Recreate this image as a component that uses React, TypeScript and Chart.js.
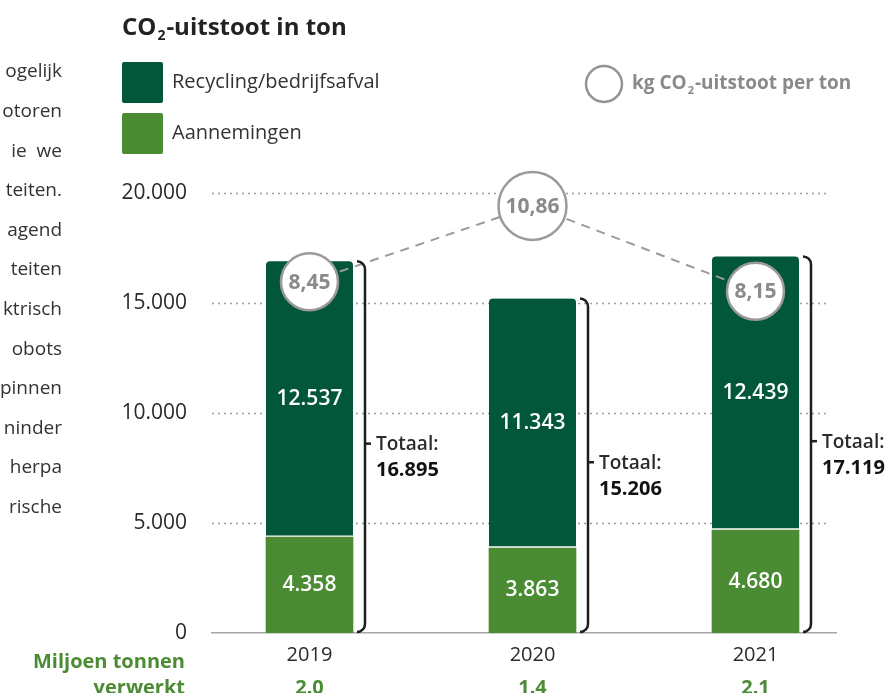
import React, { useEffect, useRef } from 'react';
import { Chart, registerables } from 'chart.js';

Chart.register(...registerables);

// ---- data ----
const years = ['2019', '2020', '2021'];
const recycling = [12537, 11343, 12439];
const aannemingen = [4358, 3863, 4680];
const totals = [16895, 15206, 17119];
const kgPerTon = [8.45, 10.86, 8.15];
const kgLabels = ['8,45', '10,86', '8,15'];
const verwerkt = ['2.0', '1.4', '2.1'];
const yTickValues = [0, 5000, 10000, 15000, 20000];
const sideText = ['ogelijk', 'otoren', 'ie  we', 'teiten.', 'agend', 'teiten', 'ktrisch', 'obots', 'pinnen', 'ninder', 'herpa', 'rische'];

const DARK = '#02573a';
const LIGHT = '#4b8b34';
const GREY = '#939393';
const TEXT = '#2b2b2b';
const FONT = '"Open Sans", sans-serif';
const BAR_W = 87;

const fmt = (n: number) => String(n).replace(/\B(?=(\d{3})+(?!\d))/g, '.');

function drawSubText(ctx: CanvasRenderingContext2D, x: number, y: number, parts: [string, string, string], size: number, weight: string, color: string) {
  ctx.fillStyle = color;
  ctx.textAlign = 'left';
  ctx.textBaseline = 'middle';
  ctx.font = `${weight} ${size}px ${FONT}`;
  ctx.fillText(parts[0], x, y);
  let cx = x + ctx.measureText(parts[0]).width + 1;
  ctx.font = `${weight} ${Math.round(size * 0.6)}px ${FONT}`;
  ctx.fillText(parts[1], cx, y + size * 0.35);
  cx += ctx.measureText(parts[1]).width + 1;
  ctx.font = `${weight} ${size}px ${FONT}`;
  ctx.fillText(parts[2], cx, y);
}

const decor = {
  id: 'decor',
  beforeDatasetsDraw(chart: any) {
    const { ctx, chartArea, scales } = chart;
    const y = scales.y;
    ctx.save();
    ctx.strokeStyle = '#9c9c9c';
    ctx.lineWidth = 1.5;
    ctx.setLineDash([2, 4]);
    yTickValues.forEach((v) => {
      if (v === 0) return;
      const py = Math.round(y.getPixelForValue(v)) + 0.5;
      ctx.beginPath();
      ctx.moveTo(chartArea.left, py);
      ctx.lineTo(chartArea.right - 6, py);
      ctx.stroke();
    });
    ctx.restore();
  },
  afterDatasetsDraw(chart: any) {
    const { ctx, scales } = chart;
    const y = scales.y;
    const metaA = chart.getDatasetMeta(0);
    const metaR = chart.getDatasetMeta(1);
    const metaK = chart.getDatasetMeta(2);
    ctx.save();
    // segment labels
    ctx.fillStyle = '#ffffff';
    ctx.textAlign = 'center';
    ctx.textBaseline = 'middle';
    ctx.font = `600 21px ${FONT}`;
    metaA.data.forEach((el: any, i: number) => {
      ctx.fillText(fmt(aannemingen[i]), el.x, (el.y + el.base) / 2);
    });
    metaR.data.forEach((el: any, i: number) => {
      ctx.fillText(fmt(recycling[i]), el.x, (el.y + el.base) / 2);
    });
    // brackets + totals
    metaR.data.forEach((el: any, i: number) => {
      const bx = el.x + BAR_W / 2 + 12;
      const top = y.getPixelForValue(totals[i]);
      const bottom = y.getPixelForValue(0) - 1;
      const mid = (top + bottom) / 2 - 3;
      const r = 8;
      ctx.strokeStyle = '#1e1e1e';
      ctx.lineWidth = 2.5;
      ctx.beginPath();
      ctx.moveTo(bx - r, top);
      ctx.arcTo(bx, top, bx, top + r, r);
      ctx.lineTo(bx, bottom - r);
      ctx.arcTo(bx, bottom, bx - r, bottom, r);
      ctx.stroke();
      ctx.beginPath();
      ctx.moveTo(bx, mid);
      ctx.lineTo(bx + 6, mid);
      ctx.stroke();
      ctx.textAlign = 'left';
      ctx.fillStyle = TEXT;
      ctx.font = `600 19px ${FONT}`;
      ctx.fillText('Totaal:', bx + 11, mid + 1);
      ctx.fillStyle = '#111';
      ctx.font = `bold 20px ${FONT}`;
      ctx.fillText(fmt(totals[i]), bx + 11, mid + 27);
    });
    // circle labels
    ctx.fillStyle = '#8a8a8a';
    ctx.textAlign = 'center';
    ctx.font = `bold 21px ${FONT}`;
    metaK.data.forEach((el: any, i: number) => {
      ctx.fillText(kgLabels[i], el.x, el.y + 1);
    });
    ctx.restore();
  },
  afterDraw(chart: any) {
    const { ctx } = chart;
    const metaR = chart.getDatasetMeta(1);
    ctx.save();
    // title
    drawSubText(ctx, 122, 28, ['CO', '2', '-uitstoot in ton'], 24, 'bold', '#222');
    // legend
    const leg = [
      { color: DARK, label: 'Recycling/bedrijfsafval', y: 62 },
      { color: LIGHT, label: 'Aannemingen', y: 113 },
    ];
    leg.forEach((l) => {
      ctx.fillStyle = l.color;
      ctx.beginPath();
      (ctx as any).roundRect(122, l.y, 41, 41, 2);
      ctx.fill();
      ctx.fillStyle = '#333';
      ctx.font = `20px ${FONT}`;
      ctx.textAlign = 'left';
      ctx.textBaseline = 'middle';
      ctx.fillText(l.label, 172, l.y + 20);
    });
    // circle legend
    ctx.strokeStyle = GREY;
    ctx.lineWidth = 2.5;
    ctx.beginPath();
    ctx.arc(604, 84, 18, 0, Math.PI * 2);
    ctx.stroke();
    drawSubText(ctx, 632, 84, ['kg CO', '2', '-uitstoot per ton'], 19, 'bold', '#8a8a8a');
    // side text
    ctx.fillStyle = '#333';
    ctx.font = `19px ${FONT}`;
    ctx.textAlign = 'right';
    ctx.textBaseline = 'middle';
    sideText.forEach((t, i) => {
      ctx.fillText(t, 62, 72 + i * 39.6);
    });
    // bottom row
    ctx.fillStyle = LIGHT;
    ctx.font = `bold 20px ${FONT}`;
    ctx.textAlign = 'right';
    ctx.fillText('Miljoen tonnen', 185, 662);
    ctx.fillText('verwerkt', 185, 688);
    ctx.textAlign = 'center';
    metaR.data.forEach((el: any, i: number) => {
      ctx.fillText(verwerkt[i], el.x, 688);
    });
    ctx.restore();
  },
};

export default function App() {
  const ref = useRef<HTMLCanvasElement | null>(null);
  useEffect(() => {
    if (!ref.current) return;
    const chart = new Chart(ref.current, {
      type: 'bar',
      data: {
        datasets: [
          {
            type: 'bar',
            label: 'Aannemingen',
            data: aannemingen.map((v, i) => ({ x: i, y: v })),
            backgroundColor: LIGHT,
            barThickness: BAR_W,
            borderWidth: 0,
            order: 1,
          },
          {
            type: 'bar',
            label: 'Recycling/bedrijfsafval',
            data: recycling.map((v, i) => ({ x: i, y: v })),
            backgroundColor: DARK,
            borderColor: '#ffffff',
            borderWidth: { top: 0, left: 0, right: 0, bottom: 2 },
            borderSkipped: false,
            borderRadius: { topLeft: 4, topRight: 4, bottomLeft: 0, bottomRight: 0 },
            barThickness: BAR_W,
            order: 1,
          },
          {
            type: 'line',
            label: 'kg CO2-uitstoot per ton',
            data: kgPerTon.map((v, i) => ({ x: i, y: v })),
            yAxisID: 'y1',
            borderColor: '#9a9a9a',
            borderWidth: 2,
            borderDash: [9, 7],
            pointRadius: [28.5, 34, 28.5],
            pointBackgroundColor: '#ffffff',
            pointBorderColor: '#9a9a9a',
            pointBorderWidth: 2.5,
            tension: 0,
            clip: false,
            order: 0,
          } as any,
        ],
      },
      options: {
        animation: false,
        responsive: false,
        events: [],
        layout: { padding: { top: 193, right: 54, left: 0, bottom: 0 } },
        plugins: { legend: { display: false }, tooltip: { enabled: false } },
        scales: {
          x: {
            type: 'linear',
            min: -0.4372,
            max: 2.361,
            bounds: 'data',
            offset: false,
            stacked: true,
            grid: { display: false, drawTicks: false, offset: false },
            border: { display: true, color: '#a6a6a6', width: 1.5 },
            afterBuildTicks: (scale: any) => {
              scale.ticks = years.map((_, i) => ({ value: i }));
            },
            afterFit: (scale: any) => {
              scale.height = 60;
            },
            ticks: {
              padding: 10,
              color: TEXT,
              font: { family: FONT, size: 20 },
              callback: (v: any) => years[v] ?? '',
            },
          },
          y: {
            type: 'linear',
            stacked: true,
            min: 0,
            max: 20000,
            grid: { display: false, drawTicks: false },
            border: { display: false },
            afterBuildTicks: (scale: any) => {
              scale.ticks = yTickValues.map((v) => ({ value: v }));
            },
            afterFit: (scale: any) => {
              scale.width = 212;
            },
            ticks: {
              padding: 25,
              color: TEXT,
              font: { family: FONT, size: 21 },
              callback: (v: any) => fmt(Number(v)),
            },
          },
          y1: {
            type: 'linear',
            display: false,
            min: -2.7,
            max: 11.27,
          },
        },
      } as any,
      plugins: [decor],
    });
    return () => chart.destroy();
  }, []);
  return (
    <div style={{ position: 'absolute', left: 0, top: 0, width: 890, height: 693 }}>
      <canvas ref={ref} width={890} height={693} style={{ display: 'block' }} />
    </div>
  );
}
